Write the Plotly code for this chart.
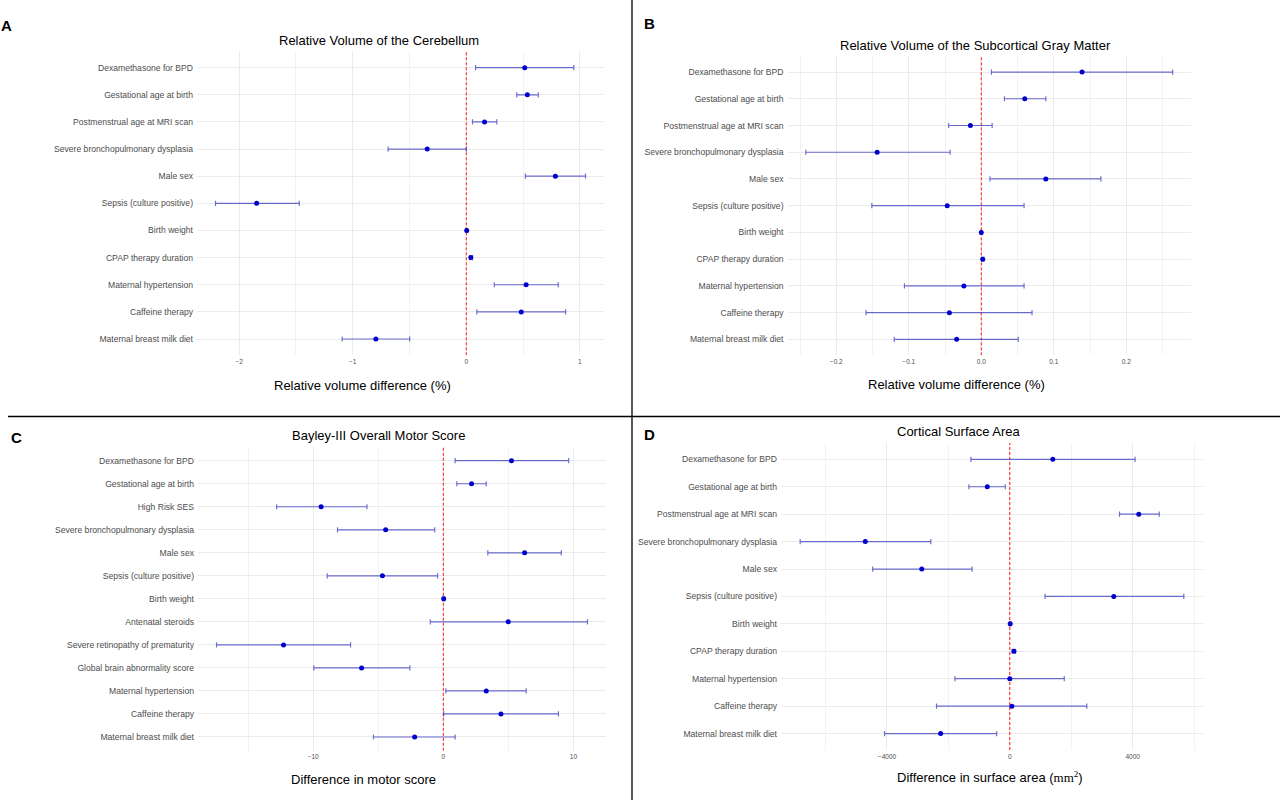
import plotly.graph_objects as go

# ---------------- data ----------------
labels_11 = ["Dexamethasone for BPD", "Gestational age at birth", "Postmenstrual age at MRI scan",
             "Severe bronchopulmonary dysplasia", "Male sex", "Sepsis (culture positive)",
             "Birth weight", "CPAP therapy duration", "Maternal hypertension",
             "Caffeine therapy", "Maternal breast milk diet"]

labels_motor = ["Dexamethasone for BPD", "Gestational age at birth", "High Risk SES",
                "Severe bronchopulmonary dysplasia", "Male sex", "Sepsis (culture positive)",
                "Birth weight", "Antenatal steroids", "Severe retinopathy of prematurity",
                "Global brain abnormality score", "Maternal hypertension",
                "Caffeine therapy", "Maternal breast milk diet"]

# A: Relative volume of the cerebellum
cereb_est = [0.515, 0.538, 0.161, -0.344, 0.785, -1.846, 0.004, 0.040, 0.527, 0.484, -0.796]
cereb_lo = [0.082, 0.445, 0.055, -0.688, 0.520, -2.208, -0.004, 0.030, 0.247, 0.093, -1.093]
cereb_hi = [0.947, 0.634, 0.269, 0.000, 1.050, -1.470, 0.012, 0.055, 0.810, 0.875, -0.498]

# B: Relative volume of the subcortical gray matter
subc_est = [0.139, 0.060, -0.015, -0.1436, 0.089, -0.047, 0.000, 0.002, -0.024, -0.044, -0.034]
subc_lo = [0.014, 0.032, -0.045, -0.242, 0.012, -0.151, -0.001, 0.0005, -0.106, -0.159, -0.120]
subc_hi = [0.264, 0.089, 0.015, -0.043, 0.165, 0.059, 0.001, 0.0035, 0.059, 0.070, 0.051]

# C: Bayley-III overall motor score
motor_est = [5.24, 2.17, -9.39, -4.43, 6.25, -4.68, 0.03, 4.99, -12.28, -6.28, 3.30, 4.43, -2.20]
motor_lo = [0.91, 1.04, -12.81, -8.13, 3.42, -8.92, -0.05, -1.00, -17.43, -9.95, 0.19, 0.03, -5.37]
motor_hi = [9.64, 3.30, -5.87, -0.66, 9.07, -0.44, 0.11, 11.08, -7.13, -2.57, 6.37, 8.85, 0.91]

# D: Cortical surface area
surf_est = [1400, -733, 4200, -4707, -2867, 3387, 13, 133, 0, 67, -2253]
surf_lo = [-1267, -1333, 3573, -6827, -4467, 1147, -10, 80, -1787, -2387, -4080]
surf_hi = [4080, -147, 4867, -2573, -1227, 5667, 36, 186, 1773, 2507, -427]

# ---------------- layout helpers ----------------
W, H = 1280, 803


def fx(px):
    return px / W


def fy(py):
    return 1 - py / H


panels = [
    dict(labels=labels_11, est=cereb_est, lo=cereb_lo, hi=cereb_hi,
         xdom=(197, 604), ydom=(51.4, 355.3), dtick=1, minor=0.5, fmt="",
         letter="A", letter_pos=(6, 25),
         title="Relative Volume of the Cerebellum", title_pos=(379, 40.5),
         xtitle="Relative volume difference (%)", xtitle_pos=(362, 386)),
    dict(labels=labels_11, est=subc_est, lo=subc_lo, hi=subc_hi,
         xdom=(787.5, 1191), ydom=(56, 355.4), dtick=0.1, minor=0.05, fmt=".1f",
         letter="B", letter_pos=(649, 23),
         title="Relative Volume of the Subcortical Gray Matter", title_pos=(975, 45),
         xtitle="Relative volume difference (%)", xtitle_pos=(956, 385)),
    dict(labels=labels_motor, est=motor_est, lo=motor_lo, hi=motor_hi,
         xdom=(198, 606), ydom=(446.9, 750.8), dtick=10, minor=5, fmt="",
         letter="C", letter_pos=(16, 438),
         title="Bayley-III Overall Motor Score", title_pos=(378, 435.5),
         xtitle="Difference in motor score", xtitle_pos=(363, 779)),
    dict(labels=labels_11, est=surf_est, lo=surf_lo, hi=surf_hi,
         xdom=(781, 1203), ydom=(442.9, 750), dtick=4000, minor=2000, fmt="",
         letter="D", letter_pos=(649, 435),
         title="Cortical Surface Area", title_pos=(959, 431.5),
         xtitle="Difference in surface area (<span style='font-family:Liberation Serif'>mm<sup>2</sup></span>)",
         xtitle_pos=(990, 776.5)),
]

FONT = "Liberation Sans, Arial, sans-serif"
GRID = "#ebebeb"
MINOR = "#f3f3f3"
TXT = "#4d4d4d"

fig = go.Figure()
layout = dict(
    width=W, height=H,
    margin=dict(l=0, r=0, t=0, b=0),
    paper_bgcolor="white", plot_bgcolor="white",
    showlegend=False,
    font=dict(family=FONT, color="black"),
)
shapes = []
annotations = []

for i, p in enumerate(panels, start=1):
    xa = "x" if i == 1 else f"x{i}"
    ya = "y" if i == 1 else f"y{i}"
    n = len(p["labels"])
    ypos = list(range(n - 1, -1, -1))  # first label on top, like a discrete axis
    ylo, yhi = -0.6, n - 1 + 0.6

    # red dashed reference line at zero (drawn first: above grid, below marks)
    fig.add_trace(go.Scatter(
        x=[0, 0], y=[ylo, yhi], mode="lines",
        line=dict(color="red", width=0.9, dash="3px,2px"),
        xaxis=xa, yaxis=ya, hoverinfo="skip",
    ))

    plus = [h - e for h, e in zip(p["hi"], p["est"])]
    minus = [e - l for e, l in zip(p["est"], p["lo"])]
    fig.add_trace(go.Scatter(
        x=p["est"], y=ypos, mode="markers",
        marker=dict(color="#0000cd", size=5),
        error_x=dict(type="data", symmetric=False, array=plus, arrayminus=minus,
                     color="rgba(50,50,190,0.7)", thickness=1.2, width=2.6),
        xaxis=xa, yaxis=ya, hoverinfo="skip",
    ))
    lo_min = min(p["lo"])
    hi_max = max(p["hi"])
    span = hi_max - lo_min
    xr = [lo_min - 0.05 * span, hi_max + 0.05 * span]
    key_x = "xaxis" if i == 1 else f"xaxis{i}"
    key_y = "yaxis" if i == 1 else f"yaxis{i}"
    layout[key_x] = dict(
        domain=[fx(p["xdom"][0]), fx(p["xdom"][1])], anchor=ya,
        range=xr, tick0=0, dtick=p["dtick"], tickformat=p["fmt"],
        showgrid=True, gridcolor=GRID, gridwidth=0.9,
        minor=dict(dtick=p["minor"], tick0=0, showgrid=True, gridcolor=MINOR, gridwidth=0.6),
        zeroline=False, showline=False, ticks="",
        tickfont=dict(size=6.5, color=TXT, family=FONT),
        ticklabelstandoff=1,
    )
    layout[key_y] = dict(
        domain=[fy(p["ydom"][1]), fy(p["ydom"][0])], anchor=xa,
        range=[ylo, yhi], tickmode="array", tickvals=ypos, ticktext=p["labels"],
        showgrid=True, gridcolor=GRID, gridwidth=0.9,
        zeroline=False, showline=False, ticks="",
        tickfont=dict(size=8.6, color=TXT, family=FONT),
        ticklabelstandoff=3,
    )
    # texts
    annotations.append(dict(text=f"<b>{p['letter']}</b>", x=fx(p["letter_pos"][0]), y=fy(p["letter_pos"][1]),
                            xref="paper", yref="paper", xanchor="center", yanchor="middle",
                            showarrow=False, font=dict(size=15, color="black", family=FONT)))
    annotations.append(dict(text=p["title"], x=fx(p["title_pos"][0]), y=fy(p["title_pos"][1]),
                            xref="paper", yref="paper", xanchor="center", yanchor="middle",
                            showarrow=False, font=dict(size=13, color="black", family=FONT)))
    annotations.append(dict(text=p["xtitle"], x=fx(p["xtitle_pos"][0]), y=fy(p["xtitle_pos"][1]),
                            xref="paper", yref="paper", xanchor="center", yanchor="middle",
                            showarrow=False, font=dict(size=13, color="black", family=FONT)))

# panel dividers
shapes.append(dict(type="line", xref="paper", yref="paper", x0=fx(632), x1=fx(632), y0=fy(0), y1=fy(800),
                   line=dict(color="black", width=1.3), layer="above"))
shapes.append(dict(type="line", xref="paper", yref="paper", x0=fx(8), x1=1, y0=fy(416.5), y1=fy(416.5),
                   line=dict(color="black", width=1.3), layer="above"))

layout["shapes"] = shapes
layout["annotations"] = annotations
fig.update_layout(**layout)
fig.write_html(
    "out.html",
    config={"displayModeBar": False},
    post_script="document.body.style.margin='0';document.body.style.padding='0';document.body.style.overflow='hidden';",
)
